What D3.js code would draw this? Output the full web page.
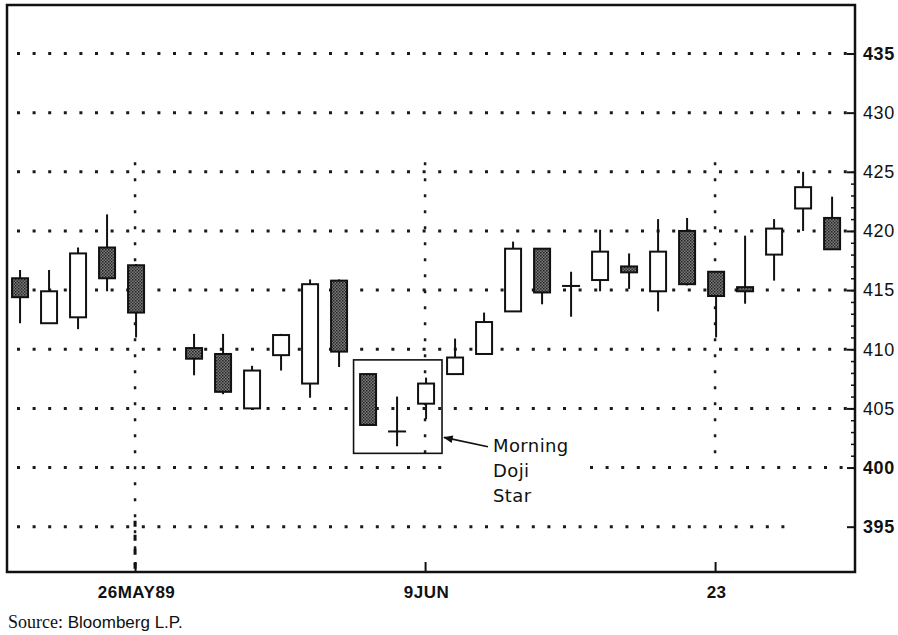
<!DOCTYPE html>
<html>
<head>
<meta charset="utf-8">
<script src="https://cdn.jsdelivr.net/npm/d3@7"></script>
<style>
  html, body { margin: 0; padding: 0; background: #fff; }
  svg { display: block; }
</style>
</head>
<body>
<svg id="chart" width="898" height="635"></svg>
<script>
// ---------------- DATA ----------------
const dates  = ["1989-05-22","1989-05-23","1989-05-24","1989-05-25","1989-05-26",
                "1989-05-30","1989-05-31","1989-06-01","1989-06-02",
                "1989-06-05","1989-06-06","1989-06-07","1989-06-08","1989-06-09",
                "1989-06-12","1989-06-13","1989-06-14","1989-06-15","1989-06-16",
                "1989-06-19","1989-06-20","1989-06-21","1989-06-22","1989-06-23",
                "1989-06-26","1989-06-27","1989-06-28","1989-06-29"];
const opens  = [416.0, 412.2, 412.7, 418.6, 417.1,
                410.1, 409.6, 405.0, 409.5,
                407.1, 415.8, 407.9, 403.05, 405.4,
                407.9, 409.6, 413.2, 418.5, 415.35,
                415.85, 417.0, 414.9, 420.0, 416.55,
                415.25, 418.0, 421.9, 421.1];
const highs  = [416.7, 416.7, 418.6, 421.4, 417.2,
                411.3, 411.3, 408.6, 411.3,
                415.9, 415.9, 407.95, 406.0, 407.6,
                410.9, 413.1, 419.1, 418.55, 416.55,
                420.1, 418.1, 421.0, 421.1, 416.6,
                419.6, 421.0, 425.0, 422.9];
const lows   = [412.2, 412.2, 411.7, 414.9, 411.0,
                407.8, 406.2, 405.0, 408.2,
                405.9, 408.5, 403.55, 401.8, 404.1,
                407.9, 409.6, 413.2, 413.8, 412.75,
                414.9, 415.1, 413.2, 415.4, 411.0,
                413.85, 415.8, 420.0, 418.45];
const closes = [414.4, 414.9, 418.1, 416.0, 413.1,
                409.2, 406.4, 408.2, 411.2,
                415.5, 409.8, 403.6, 403.05, 407.1,
                409.3, 412.3, 418.5, 414.8, 415.35,
                418.25, 416.5, 418.25, 415.5, 414.5,
                414.9, 420.2, 423.7, 418.45];

const yTickValues   = [395, 400, 405, 410, 415, 420, 425, 430, 435];
const yMinorTicks   = d3.range(400, 426, 1);
const xTickDates    = ["1989-05-26", "1989-06-09", "1989-06-23"];
const xTickLabels   = ["26MAY89", "9JUN", "23"];
const gridValues    = [435, 430, 425, 420, 415, 410, 405, 400, 395];

// annotation (data space): Morning Doji Star box around Jun 7 - Jun 9
const boxDates   = ["1989-06-07", "1989-06-09"];
const boxLow     = 401.2;
const boxHigh    = 409.1;
const noteLines  = ["Morning", "Doji", "Star"];
const sourceNote = ["Source:", " Bloomberg L.P."];

// ---------------- HELPERS ----------------
const parse = d3.timeParse("%Y-%m-%d");
const firstDay = parse(dates[0]);
// weekday index (weekends removed, holidays keep their slot)
const dayIndex = s => d3.timeDay.range(firstDay, parse(s))
                         .filter(d => d.getDay() !== 0 && d.getDay() !== 6).length;

const data = dates.map((d, i) => ({
  idx: dayIndex(d), open: opens[i], high: highs[i], low: lows[i], close: closes[i]
}));

// ---------------- LAYOUT ----------------
const L = 7, R = 855, T = 5, B = 572;
const svg = d3.select("#chart");

const x = d3.scaleLinear().domain([-0.45, 28.79]).range([L, R]);
const y = d3.scaleLinear().domain([391.17, 439.1]).range([B, T]);

const defs = svg.append("defs");
const pat = defs.append("pattern").attr("id", "stip")
  .attr("width", 3).attr("height", 3).attr("patternUnits", "userSpaceOnUse");
pat.append("rect").attr("width", 3).attr("height", 3).attr("fill", "#7c7c7c");
pat.append("rect").attr("x", 0).attr("y", 0).attr("width", 1.5).attr("height", 1.5).attr("fill", "#222");
pat.append("rect").attr("x", 1.5).attr("y", 1.5).attr("width", 1.5).attr("height", 1.5).attr("fill", "#333");

defs.append("marker").attr("id", "arrow")
  .attr("viewBox", "0 0 10 10").attr("refX", 9).attr("refY", 5)
  .attr("markerWidth", 7).attr("markerHeight", 6).attr("orient", "auto")
  .append("path").attr("d", "M0,1 L10,5 L0,9 Z").attr("fill", "#111");

// ---------------- GRID ----------------
// horizontal dotted lines as segments (400 line broken around the note text)
const hSegs = [];
gridValues.forEach(v => {
  if (v === 395) hSegs.push({ v, x1: 17, x2: 792 });
  else if (v === 400) { hSegs.push({ v, x1: 17, x2: 444 }); hSegs.push({ v, x1: 590, x2: 852 }); }
  else hSegs.push({ v, x1: 17, x2: 852 });
});
const grid = svg.append("g");
grid.selectAll("line.h").data(hSegs).join("line")
  .attr("class", "h")
  .attr("x1", d => d.x1).attr("x2", d => d.x2)
  .attr("y1", d => y(d.v)).attr("y2", d => y(d.v))
  .attr("stroke", "#1a1a1a").attr("stroke-width", 3)
  .attr("stroke-dasharray", "3,12.6");

const vIdx = xTickDates.map(dayIndex);
grid.selectAll("line.v").data(vIdx).join("line")
  .attr("class", "v")
  .attr("x1", d => x(d) - 1).attr("x2", d => x(d) - 1)
  .attr("y1", y(425.8))
  .attr("y2", (d, i) => i === 0 ? B : y(400.2))
  .attr("stroke", "#1a1a1a").attr("stroke-width", 2.5)
  .attr("stroke-dasharray", "3,13");
// heavier bottom segment of the first date line
grid.append("line")
  .attr("x1", x(vIdx[0]) - 1).attr("x2", x(vIdx[0]) - 1)
  .attr("y1", y(395.5)).attr("y2", B)
  .attr("stroke", "#111").attr("stroke-width", 3)
  .attr("stroke-dasharray", "6,8");

// ---------------- CANDLES ----------------
const bw = 16;
const cg = svg.append("g");
cg.selectAll("line.wick").data(data).join("line")
  .attr("class", "wick")
  .attr("x1", d => x(d.idx)).attr("x2", d => x(d.idx))
  .attr("y1", d => y(d.high)).attr("y2", d => y(d.low))
  .attr("stroke", "#111").attr("stroke-width", 2);

cg.selectAll("rect.body").data(data.filter(d => d.open !== d.close)).join("rect")
  .attr("class", "body")
  .attr("x", d => x(d.idx) - bw / 2)
  .attr("width", bw)
  .attr("y", d => y(Math.max(d.open, d.close)))
  .attr("height", d => Math.max(2, Math.abs(y(d.open) - y(d.close))))
  .attr("fill", d => d.close < d.open ? "url(#stip)" : "#fff")
  .attr("stroke", "#111").attr("stroke-width", 2);

cg.selectAll("line.doji").data(data.filter(d => d.open === d.close)).join("line")
  .attr("class", "doji")
  .attr("x1", d => x(d.idx) - bw / 2 - 1).attr("x2", d => x(d.idx) + bw / 2 + 1)
  .attr("y1", d => y(d.open)).attr("y2", d => y(d.open))
  .attr("stroke", "#111").attr("stroke-width", 2);

// ---------------- FRAME & AXES ----------------
svg.append("rect")
  .attr("x", L).attr("y", T).attr("width", R - L).attr("height", B - T)
  .attr("fill", "none").attr("stroke", "#111").attr("stroke-width", 2.5);

// right axis labels
const yAxisLab = svg.append("g").attr("transform", `translate(${R},0)`)
  .call(d3.axisRight(y).tickValues(yTickValues).tickSize(0).tickPadding(8));
yAxisLab.select(".domain").remove();
yAxisLab.selectAll("text")
  .attr("font-family", "'Liberation Sans', Arial, sans-serif")
  .attr("font-size", 18).attr("font-weight", d => (d === 435 || d === 400 || d === 395) ? "bold" : "normal")
  .attr("letter-spacing", 0.6)
  .attr("fill", "#111");

// right axis major ticks (inside)
const yMaj = svg.append("g").attr("transform", `translate(${R},0)`)
  .call(d3.axisLeft(y).tickValues(yTickValues).tickSize(8).tickFormat(""));
yMaj.select(".domain").remove();
yMaj.selectAll("line").attr("stroke", "#111").attr("stroke-width", 2);

// right axis minor ticks
const yMin = svg.append("g").attr("transform", `translate(${R},0)`)
  .call(d3.axisLeft(y).tickValues(yMinorTicks).tickSize(4).tickFormat(""));
yMin.select(".domain").remove();
yMin.selectAll("line").attr("stroke", "#111").attr("stroke-width", 1.5);

// bottom axis labels
const xAxisLab = svg.append("g").attr("transform", `translate(0,${B})`)
  .call(d3.axisBottom(x).tickValues(vIdx).tickSize(0).tickPadding(14)
        .tickFormat((d, i) => xTickLabels[i]));
xAxisLab.select(".domain").remove();
xAxisLab.selectAll("text")
  .attr("font-family", "'Liberation Sans Narrow', 'Liberation Sans', Arial, sans-serif")
  .attr("font-size", 17).attr("font-weight", "bold")
  .attr("letter-spacing", 0.5)
  .attr("fill", "#111");

// bottom ticks (inside)
const xTk = svg.append("g").attr("transform", `translate(-1,${B})`)
  .call(d3.axisTop(x).tickValues(vIdx).tickSize(10).tickFormat(""));
xTk.select(".domain").remove();
xTk.selectAll("line").attr("stroke", "#111").attr("stroke-width", 2);

// ---------------- ANNOTATION ----------------
const bx0 = x(dayIndex(boxDates[0]) - 0.5), bx1 = x(dayIndex(boxDates[1]) + 0.55);
svg.append("rect")
  .attr("x", bx0).attr("y", y(boxHigh))
  .attr("width", bx1 - bx0).attr("height", y(boxLow) - y(boxHigh))
  .attr("fill", "none").attr("stroke", "#111").attr("stroke-width", 1.6);

const arrowStart = [bx1 + 46, y(401.75)];
svg.append("line")
  .attr("x1", arrowStart[0]).attr("y1", arrowStart[1])
  .attr("x2", bx1 + 2).attr("y2", y(402.55))
  .attr("stroke", "#111").attr("stroke-width", 1.6)
  .attr("marker-end", "url(#arrow)");

svg.append("g").selectAll("text").data(noteLines).join("text")
  .attr("x", arrowStart[0] + 5)
  .attr("y", (d, i) => arrowStart[1] + 5 + i * 25)
  .attr("font-family", "'DejaVu Sans', Verdana, sans-serif")
  .attr("font-size", 18).attr("letter-spacing", 0.4)
  .attr("fill", "#111")
  .text(d => d);

// ---------------- SOURCE ----------------
const src = svg.append("text").attr("x", 8).attr("y", 628).attr("fill", "#111");
src.append("tspan").attr("font-family", "'Liberation Serif', 'Times New Roman', serif")
  .attr("font-size", 18).text(sourceNote[0]);
src.append("tspan").attr("font-family", "'Liberation Sans Narrow', 'Liberation Sans', Arial, sans-serif")
  .attr("font-size", 17).text(sourceNote[1]);
</script>
</body>
</html>
